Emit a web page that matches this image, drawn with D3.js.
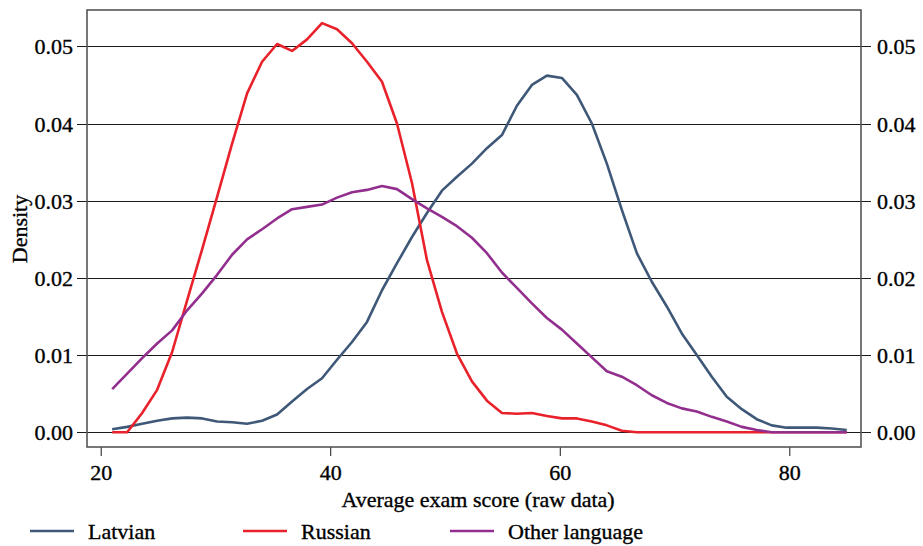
<!DOCTYPE html>
<html>
<head>
<meta charset="utf-8">
<script src="https://cdn.jsdelivr.net/npm/d3@7"></script>
</head>
<body style="margin:0; background:#fff">
<svg id="chart" width="923" height="546" font-family="Liberation Serif"></svg>
<script>
// kdensity evaluated at 50 evenly spaced scores between 21 and 85
const scoreMin = 21;
const scoreMax = 85;
const nPoints = 50;

const latvian = [
  0.0004, 0.0007, 0.0011, 0.0015, 0.0018, 0.0019, 0.0018, 0.0014, 0.0013, 0.0011,
  0.0015, 0.0023, 0.0040, 0.0056, 0.0070, 0.0094, 0.0117, 0.0143, 0.0184, 0.0219,
  0.0253, 0.0284, 0.0313, 0.0331, 0.0348, 0.0368, 0.0385, 0.0423, 0.0450, 0.0462,
  0.0459, 0.0437, 0.0400, 0.0348, 0.0288, 0.0232, 0.0195, 0.0163, 0.0128, 0.0100,
  0.0072, 0.0046, 0.0030, 0.0017, 0.0009, 0.0006, 0.0006, 0.0006, 0.0005, 0.0003
];

const russian = [
  0.0000, 0.0000, 0.0025, 0.0055, 0.0104, 0.0171, 0.0237, 0.0305, 0.0374, 0.0439,
  0.0480, 0.0503, 0.0494, 0.0509, 0.0530, 0.0522, 0.0504, 0.0480, 0.0454, 0.0400,
  0.0323, 0.0223, 0.0156, 0.0102, 0.0066, 0.0041, 0.0025, 0.0024, 0.0025, 0.0021,
  0.0018, 0.0018, 0.0014, 0.0009, 0.0002, 0.0000, 0.0000, 0.0000, 0.0000, 0.0000,
  0.0000, 0.0000, 0.0000, 0.0000, 0.0000, 0.0000, 0.0000, 0.0000, 0.0000, 0.0000
];

const otherLang = [
  0.0056, 0.0076, 0.0096, 0.0115, 0.0132, 0.0158, 0.0180, 0.0204, 0.0230, 0.0250,
  0.0263, 0.0277, 0.0289, 0.0292, 0.0295, 0.0304, 0.0311, 0.0314, 0.0319, 0.0315,
  0.0302, 0.0290, 0.0279, 0.0267, 0.0252, 0.0232, 0.0207, 0.0187, 0.0167, 0.0148,
  0.0133, 0.0115, 0.0097, 0.0079, 0.0072, 0.0061, 0.0048, 0.0038, 0.0031, 0.0027,
  0.0020, 0.0014, 0.0007, 0.0003, 0.0000, 0.0000, 0.0000, 0.0000, 0.0000, 0.0000
];

const seriesNames = ['Latvian', 'Russian', 'Other language'];
const seriesColors = ['#3f5878', '#e8212b', '#922f8e'];
const xTicks = [20, 40, 60, 80];
const yTicks = [0, 0.01, 0.02, 0.03, 0.04, 0.05];

const scores = d3.range(nPoints).map(i => scoreMin + i * (scoreMax - scoreMin) / (nPoints - 1));
const allSeries = [latvian, russian, otherLang];

const svg = d3.select('#chart');
const frame = { left: 87, right: 861, top: 10, bottom: 447 };

const x = d3.scaleLinear().domain([20, 80]).range([100.7, 789.3]);
const y = d3.scaleLinear().domain([0, 0.05]).range([432.3, 46.3]);

// slightly heavier text, like the stata export
function heavyText(sel) {
  sel.attr('font-family', 'Liberation Serif')
    .attr('font-size', 22)
    .attr('fill', '#000')
    .attr('stroke', '#000')
    .attr('stroke-width', 0.35);
}

// gridlines
svg.append('g')
  .selectAll('line')
  .data(yTicks)
  .join('line')
  .attr('x1', frame.left).attr('x2', frame.right)
  .attr('y1', d => Math.round(y(d)) + 0.5).attr('y2', d => Math.round(y(d)) + 0.5)
  .attr('stroke', '#1a1a1a').attr('stroke-width', 1);

function styleAxis(g) {
  g.attr('font-family', 'Liberation Serif').attr('font-size', 22);
  g.select('.domain').remove();
  g.selectAll('.tick line').attr('stroke', '#1a1a1a');
  g.selectAll('text').call(heavyText);
}

// left axis
const leftAxis = svg.append('g')
  .attr('transform', `translate(${frame.left},0.5)`)
  .call(d3.axisLeft(y).tickValues(yTicks).tickFormat(d3.format('.2f')).tickSize(10).tickPadding(4))
  .call(styleAxis);
leftAxis.selectAll('.tick').attr('transform', d => `translate(0,${Math.round(y(d))})`);
leftAxis.selectAll('text').attr('dy', '0.35em');

// right axis
const rightAxis = svg.append('g')
  .attr('transform', `translate(${frame.right},0.5)`)
  .call(d3.axisRight(y).tickValues(yTicks).tickFormat(d3.format('.2f')).tickSize(10).tickPadding(6))
  .call(styleAxis);
rightAxis.selectAll('.tick').attr('transform', d => `translate(0,${Math.round(y(d))})`);
rightAxis.selectAll('text').attr('dy', '0.35em');

// bottom axis
svg.append('g')
  .attr('transform', `translate(0,${frame.bottom})`)
  .call(d3.axisBottom(x).tickValues(xTicks).tickFormat(d3.format('d')).tickSize(9).tickPadding(8))
  .call(styleAxis);

// frame
svg.append('rect')
  .attr('x', frame.left).attr('y', frame.top)
  .attr('width', frame.right - frame.left).attr('height', frame.bottom - frame.top)
  .attr('fill', 'none').attr('stroke', '#555').attr('stroke-width', 1.6);

// curves
const line = d3.line()
  .x((d, i) => x(scores[i]))
  .y(d => y(d));

svg.append('g')
  .selectAll('path')
  .data(allSeries)
  .join('path')
  .attr('fill', 'none')
  .attr('stroke-width', 2.6)
  .attr('stroke-linejoin', 'round')
  .attr('stroke', (d, i) => seriesColors[i])
  .attr('d', d => line(d));

// axis titles
svg.append('text')
  .attr('x', 478).attr('y', 507)
  .attr('text-anchor', 'middle')
  .call(heavyText)
  .text('Average exam score (raw data)');

svg.append('text')
  .attr('transform', 'translate(27,229) rotate(-90)')
  .attr('text-anchor', 'middle')
  .call(heavyText)
  .text('Density');

// legend
const legendX = [30, 243, 450];
const legend = svg.append('g')
  .selectAll('g')
  .data(seriesNames)
  .join('g')
  .attr('transform', (d, i) => `translate(${legendX[i]},531)`);

legend.append('line')
  .attr('x1', 0).attr('x2', 44)
  .attr('stroke', (d, i) => seriesColors[i])
  .attr('stroke-width', 2.6);

legend.append('text')
  .attr('x', 58).attr('y', 8)
  .call(heavyText)
  .text(d => d);
</script>
</body>
</html>
